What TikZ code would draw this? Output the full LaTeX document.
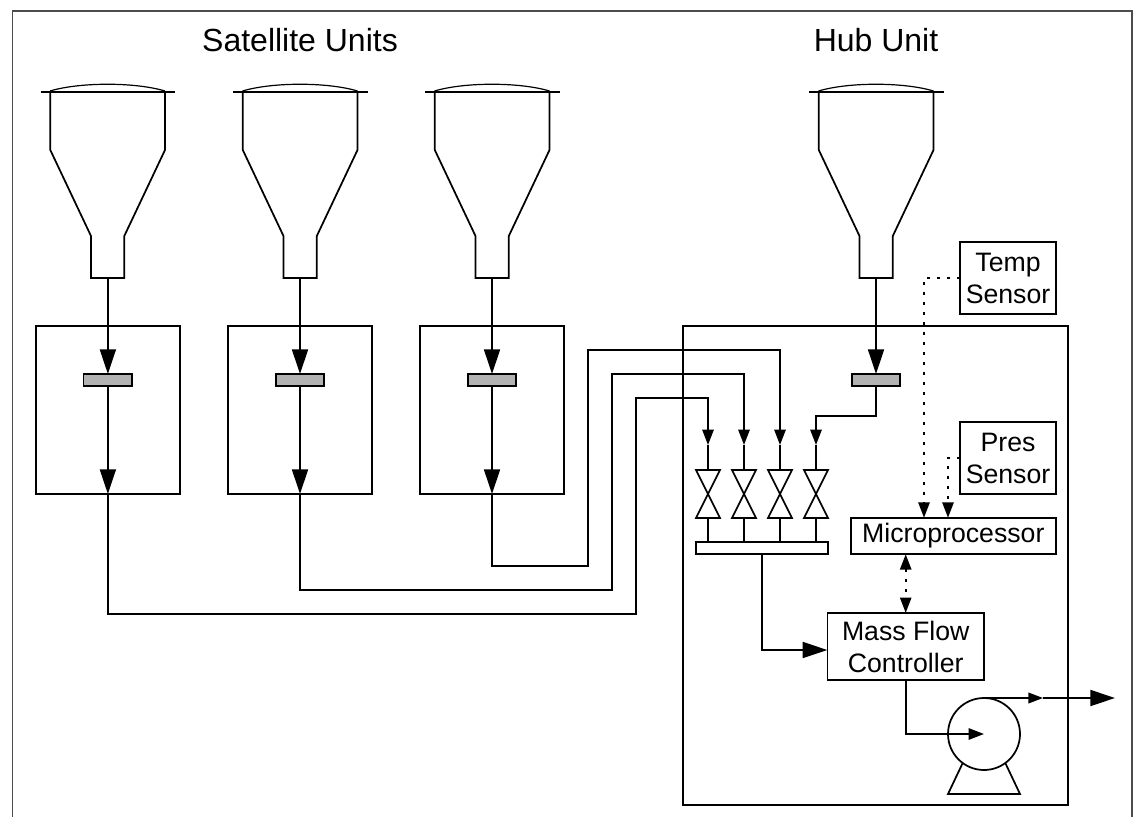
\documentclass[tikz,border=0pt]{standalone}
\usepackage{fontspec}
\setmainfont{Liberation Sans}
\usetikzlibrary{arrows.meta}
\tikzset{
  pipe/.style={line width=1.3pt},
  bigarrow/.style={pipe, -{Triangle[length=18.5pt,width=12pt]}},
  smallarrow/.style={pipe, -{Triangle[length=11.5pt,width=8.5pt]}},
  tinyarrow/.style={pipe, -{Triangle[length=11pt,width=8pt]}},
  signal/.style={line width=1.3pt, dash pattern=on 2pt off 5.5pt, -{Triangle[length=11.5pt,width=8.5pt]}},
  signalboth/.style={line width=1.3pt, dash pattern=on 2pt off 5.5pt, {Triangle[length=11.5pt,width=8.5pt]}-{Triangle[length=11.5pt,width=8.5pt]}},
  unitbox/.style={draw, line width=1.3pt, inner sep=0pt, outer sep=0pt, minimum width=108pt, minimum height=126pt},
  filter/.style={draw, line width=1.3pt, fill=black!30, inner sep=0pt, outer sep=0pt, minimum width=36.5pt, minimum height=9pt},
  textbox/.style={draw, line width=1.3pt, inner sep=0pt, outer sep=0pt, align=center,
    font=\fontsize{20}{24}\selectfont},
  title/.style={inner sep=0pt, font=\fontsize{24}{28}\selectfont}
}
\begin{document}
\begin{tikzpicture}[x=0.75pt, y=-0.75pt]
  \useasboundingbox (0,0) rectangle (1135,817);
  \draw [line width=0.8pt, black!70] (12.5,817) -- (12.5,11) -- (1132,11) -- (1132,817);
  \node [title] (satTitle) at (300,40) {Satellite Units};
  \node [title] (hubTitle) at (876,40) {Hub Unit};

  \draw [pipe] (40.7,92) -- (175,92);
  \draw [line width=0.9pt] (50,91) .. controls (80,82) and (135,82) .. (165,91);
  \draw [pipe] (50.3,92) -- (50.3,150) -- (91,236) -- (91,278) -- (124.3,278) -- (124.3,236) -- (165,150) -- (165,92);
  \coordinate (neckA) at (107.9,278);
  \draw [pipe] (233.2,92) -- (367.5,92);
  \draw [line width=0.9pt] (242.5,91) .. controls (272.5,82) and (327.5,82) .. (357.5,91);
  \draw [pipe] (242.8,92) -- (242.8,150) -- (283.5,236) -- (283.5,278) -- (316.8,278) -- (316.8,236) -- (357.5,150) -- (357.5,92);
  \coordinate (neckB) at (300,278);
  \draw [pipe] (425.2,92) -- (559.5,92);
  \draw [line width=0.9pt] (434.5,91) .. controls (464.5,82) and (519.5,82) .. (549.5,91);
  \draw [pipe] (434.8,92) -- (434.8,150) -- (475.5,236) -- (475.5,278) -- (508.8,278) -- (508.8,236) -- (549.5,150) -- (549.5,92);
  \coordinate (neckC) at (492,278);
  \draw [pipe] (809.2,92) -- (943.5,92);
  \draw [line width=0.9pt] (818.5,91) .. controls (848.5,82) and (903.5,82) .. (933.5,91);
  \draw [pipe] (818.8,92) -- (818.8,150) -- (859.5,236) -- (859.5,278) -- (892.8,278) -- (892.8,236) -- (933.5,150) -- (933.5,92);
  \coordinate (neckD) at (876,278);

  \node [unitbox] (satA) at (107.9,410) {};
  \node [unitbox] (satB) at (300,410) {};
  \node [unitbox] (satC) at (492,410) {};
  \node [unitbox, minimum width=288.75pt, minimum height=359.25pt] (hub) at (875.5,565.5) {};

  \node [filter] (filterA) at (107.9,380) {};
  \node [filter] (filterB) at (300,380) {};
  \node [filter] (filterC) at (492,380) {};
  \node [filter] (filterD) at (876,380) {};

  \draw [bigarrow] (neckA) -- (filterA.north);
  \draw [bigarrow] (neckB) -- (filterB.north);
  \draw [bigarrow] (neckC) -- (filterC.north);
  \draw [bigarrow] (neckD) -- (filterD.north);
  \draw [bigarrow] (filterA.south) -- (satA.south);
  \draw [bigarrow] (filterB.south) -- (satB.south);
  \draw [bigarrow] (filterC.south) -- (satC.south);

  \coordinate (valveTopA) at (708,470);
  \coordinate (valveTopB) at (744,470);
  \coordinate (valveTopC) at (780,470);
  \coordinate (valveTopD) at (816,470);
  \coordinate (tipA) at (708,445);
  \coordinate (tipB) at (744,445);
  \coordinate (tipC) at (780,445);
  \coordinate (tipD) at (816,445);

  \draw [smallarrow] (satA.south) -- (107.9,614) -- (636,614) -- (636,398) -- (708,398) -- (tipA);
  \draw [smallarrow] (satB.south) -- (300,590) -- (612,590) -- (612,374) -- (744,374) -- (tipB);
  \draw [smallarrow] (satC.south) -- (492,566) -- (588,566) -- (588,350) -- (780,350) -- (tipC);
  \draw [smallarrow] (filterD.south) -- (876,416) -- (816,416) -- (tipD);
  \draw [pipe] (tipA) -- (valveTopA);
  \draw [pipe] (tipB) -- (valveTopB);
  \draw [pipe] (tipC) -- (valveTopC);
  \draw [pipe] (tipD) -- (valveTopD);

  \draw [pipe] (696,470) -- (720,470) -- (696,518) -- (720,518) -- cycle;
  \draw [pipe] (732,470) -- (756,470) -- (732,518) -- (756,518) -- cycle;
  \draw [pipe] (768,470) -- (792,470) -- (768,518) -- (792,518) -- cycle;
  \draw [pipe] (804,470) -- (828,470) -- (804,518) -- (828,518) -- cycle;

  \node [draw, line width=1.3pt, inner sep=0pt, outer sep=0pt, minimum width=99pt, minimum height=9.3pt] (manifold) at (762,548) {};
  \draw [pipe] (708,518) -- (708,541.8);
  \draw [pipe] (744,518) -- (744,541.8);
  \draw [pipe] (780,518) -- (780,541.8);
  \draw [pipe] (816,518) -- (816,541.8);

  \node [textbox, minimum width=72pt, minimum height=54pt] (temp) at (1008,278.3) {Temp\\Sensor};
  \node [textbox, minimum width=72pt, minimum height=54pt] (pres) at (1008,458) {Pres\\Sensor};
  \node [textbox, minimum width=154pt, minimum height=27.5pt] (micro) at (953.3,536) {Microprocessor};
  \node [textbox, minimum width=117.5pt, minimum height=50.5pt] (mfc) at (905.7,646.5) {Mass Flow\\Controller};
  \coordinate (mfcIn) at (827.3,650);

  \draw [signal] (temp.west) -- (924,278.3) -- (924,517.7);
  \draw [signal] (pres.west) -- (948,458) -- (948,517.7);
  \draw [signalboth] (micro.south -| mfc.north) -- (mfc.north);

  \draw [bigarrow] (manifold.south) -- (762,650) -- (mfcIn);

  \node [circle, draw, line width=1.3pt, inner sep=0pt, outer sep=0pt, minimum size=54pt] (pump) at (984,734) {};
  \draw [pipe] (962.7,763) -- (948,794) -- (1020,794) -- (1005.3,763);
  \draw [smallarrow] (mfc.south) -- (905.7,734) -- (pump.center);
  \coordinate (outMid) at (1043,698);
  \coordinate (outEnd) at (1115,698);
  \draw [tinyarrow] (pump.north) -- (outMid);
  \draw [bigarrow] (outMid) -- (outEnd);
\end{tikzpicture}
\end{document}
